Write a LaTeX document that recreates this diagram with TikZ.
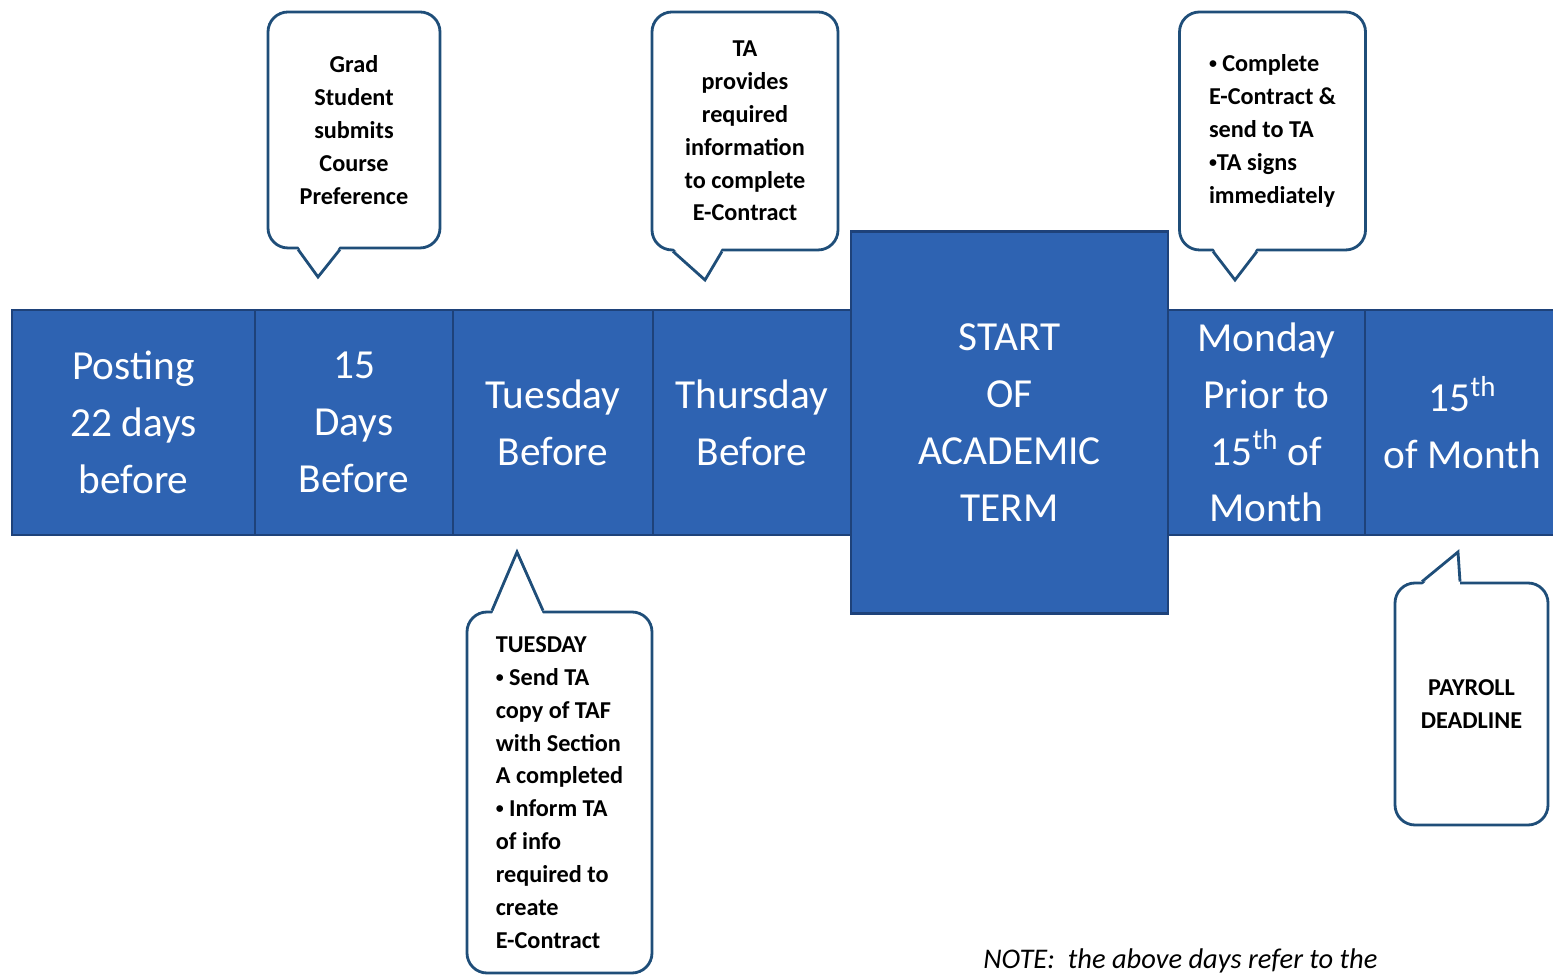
\documentclass[tikz,border=0pt]{standalone}
\usepackage{fontspec}
\setmainfont{Carlito}
\usetikzlibrary{positioning}

\definecolor{barblue}{RGB}{46,99,178}
\definecolor{baredge}{RGB}{30,66,122}
\definecolor{noteedge}{RGB}{31,78,121}

\newcommand\dotmark{\raisebox{0.12em}{\fontsize{9}{9}\selectfont•}}

\begin{document}
\begin{tikzpicture}[
    cell/.style={draw=baredge, line width=1.5pt, fill=barblue, text=white, align=center,
        minimum height=4.5cm, inner sep=1pt, outer sep=0pt, font={\fontsize{23.5}{32.3}\selectfont}},
    note/.style={draw=noteedge, line width=1.6pt, fill=white, rounded corners=0.4cm,
        align=center, font={\bfseries\fontsize{13.8}{18.7}\selectfont}},
    tail/.style={draw=noteedge, line width=1.6pt, line join=miter}
]
\useasboundingbox (0,0) rectangle (31.06,19.52);

% Timeline
\node[cell, minimum width=4.86cm] (posting) at (2.67,11.07) {Posting\\22 days\\before};
\node[cell, minimum width=3.96cm, right=0pt of posting] (fifteen) {15\\Days\\Before};
\node[cell, minimum width=4.0cm, right=0pt of fifteen] (tue) {Tuesday\\Before};
\node[cell, minimum width=3.96cm, right=0pt of tue] (thu) {Thursday\\Before};
\node[cell, minimum width=6.34cm, minimum height=7.64cm, right=0pt of thu] (start) {START\\OF\\ACADEMIC\\TERM};
\node[cell, minimum width=3.94cm, right=0pt of start] (monday) {Monday\\Prior to\\15\textsuperscript{th} of\\Month};
\node[cell, minimum width=3.9cm, right=0pt of monday] (mid) {15\textsuperscript{th}\\of Month};

% Callouts above
\node[note, minimum width=3.44cm, minimum height=4.72cm] (grad) at (7.08,16.92)
    {Grad\\Student\\submits\\Course\\Preference};
\node[note, minimum width=3.72cm, minimum height=4.76cm] (info) at (14.9,16.9)
    {TA\\provides\\required\\information\\to complete\\E-Contract};
\node[note, minimum width=3.72cm, minimum height=4.76cm, align=left] (sign) at (25.45,16.9)
    {\dotmark\ Complete\\E-Contract \&\\send to TA\\\dotmark TA signs\\immediately};

% Callouts below
\node[note, minimum width=3.7cm, minimum height=7.22cm, align=left] (send) at (11.19,3.67)
    {TUESDAY\\\dotmark\ Send TA\\copy of TAF\\with Section\\A completed\\\dotmark\ Inform TA\\of info\\required to\\create\\E-Contract};
\node[note, minimum width=3.06cm, minimum height=4.84cm] (payroll) at (29.43,5.44)
    {PAYROLL\\DEADLINE};

% Pointers
\coordinate (gradtip) at (6.36,13.98);
\coordinate (infotip) at (14.10,13.92);
\coordinate (signtip) at (24.70,13.92);
\coordinate (sendtip) at (10.34,8.48);
\coordinate (paytip) at (29.16,8.48);

\fill[white] ([xshift=-1.12cm,yshift=2pt]grad.south) -- (gradtip) -- ([xshift=-0.28cm,yshift=2pt]grad.south) -- cycle;
\draw[tail] ([xshift=-1.12cm]grad.south) -- (gradtip) -- ([xshift=-0.28cm]grad.south);

\fill[white] ([xshift=-1.44cm,yshift=2pt]info.south) -- (infotip) -- ([xshift=-0.46cm,yshift=2pt]info.south) -- cycle;
\draw[tail] ([xshift=-1.44cm]info.south) -- (infotip) -- ([xshift=-0.46cm]info.south);

\fill[white] ([xshift=-1.19cm,yshift=2pt]sign.south) -- (signtip) -- ([xshift=-0.31cm,yshift=2pt]sign.south) -- cycle;
\draw[tail] ([xshift=-1.19cm]sign.south) -- (signtip) -- ([xshift=-0.31cm]sign.south);

\fill[white] ([xshift=-1.35cm,yshift=-2pt]send.north) -- (sendtip) -- ([xshift=-0.33cm,yshift=-2pt]send.north) -- cycle;
\draw[tail] ([xshift=-1.35cm]send.north) -- (sendtip) -- ([xshift=-0.33cm]send.north);

\fill[white] ([xshift=-0.99cm,yshift=-2pt]payroll.north) -- (paytip) -- ([xshift=-0.23cm,yshift=-2pt]payroll.north) -- cycle;
\draw[tail] ([xshift=-0.99cm]payroll.north) -- (paytip) -- ([xshift=-0.23cm]payroll.north);

% Footnote
\node[anchor=west, inner sep=0pt, font={\itshape\fontsize{16.2}{18}\selectfont}] (remark) at (19.66,0.3)
    {NOTE:~ the above days refer to the};

\end{tikzpicture}
\end{document}
